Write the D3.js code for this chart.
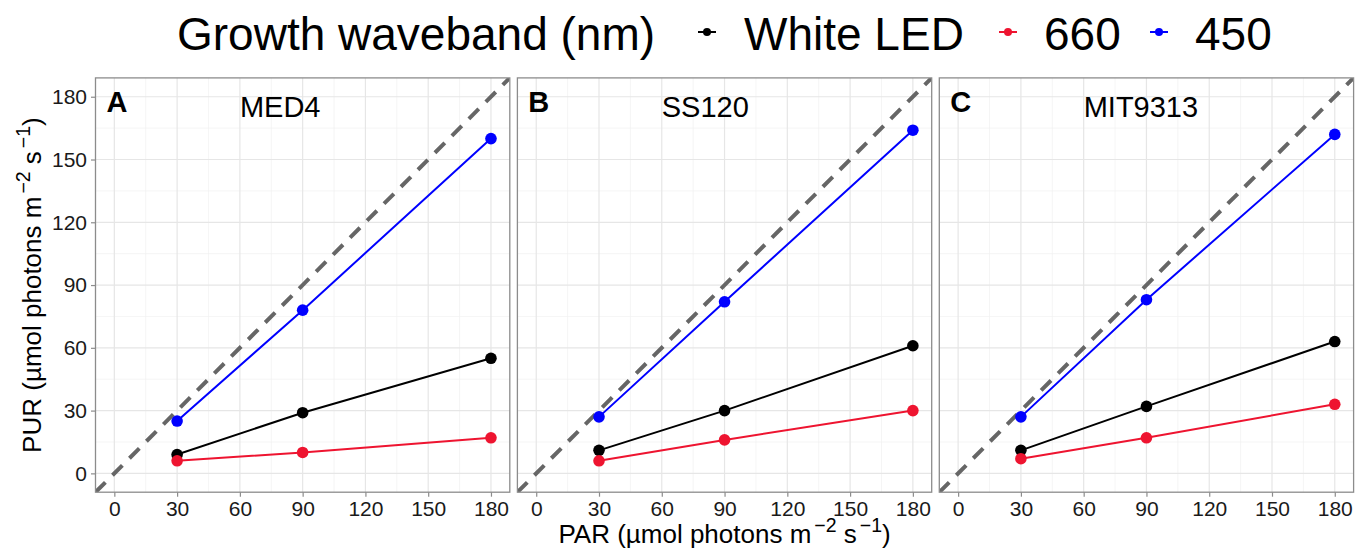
<!DOCTYPE html>
<html>
<head>
<meta charset="utf-8">
<script src="https://cdn.jsdelivr.net/npm/d3@7"></script>
<style>
    body { margin: 0; background: #fff; }
    svg { display: block; font-family: "Liberation Sans", Arial, sans-serif; }
</style>
</head>
<body>
<div id="chart"></div>
<script>
// Data
const strains = ["MED4", "SS120", "MIT9313"];
const panelLetters = ["A", "B", "C"];
const parLevels = [30, 90, 180];
const whiteLED = [[9, 29, 55], [11, 30, 61], [11, 32, 63]];
const red660 = [[6, 10, 17], [6, 16, 30], [7, 17, 33]];
const blue450 = [[25, 78, 160], [27, 82, 164], [27, 83, 162]];
const axisTicks = [0, 30, 60, 90, 120, 150, 180];
const minorTicks = [15, 45, 75, 105, 135, 165];

const seriesNames = ["White LED", "660", "450"];
const seriesColors = ["#000000", "#ee1430", "#0000ff"];
const seriesValues = [whiteLED, red660, blue450];

const width = 1364, height = 556;
const panelW = 414.3, panelGap = 7.6, panelLeft = 95.5;
const panelTop = 77.9, panelBottom = 492.2;

const svg = d3.select("#chart").append("svg")
    .attr("width", width)
    .attr("height", height);

const y = d3.scaleLinear()
    .domain([-9, 189])
    .range([panelBottom, panelTop]);

strains.forEach(function(strain, p) {
    const x0 = panelLeft + p * (panelW + panelGap);
    const x = d3.scaleLinear()
        .domain([-9, 189])
        .range([x0, x0 + panelW]);

    const g = svg.append("g");

    g.append("clipPath")
        .attr("id", "clip" + p)
        .append("rect")
        .attr("x", x0).attr("y", panelTop)
        .attr("width", panelW).attr("height", panelBottom - panelTop);

    // grid
    g.selectAll(".minx").data(minorTicks).enter().append("line")
        .attr("x1", d => x(d)).attr("x2", d => x(d))
        .attr("y1", panelTop).attr("y2", panelBottom)
        .attr("stroke", "#f0f0f0").attr("stroke-width", 0.7);
    g.selectAll(".miny").data(minorTicks).enter().append("line")
        .attr("y1", d => y(d)).attr("y2", d => y(d))
        .attr("x1", x0).attr("x2", x0 + panelW)
        .attr("stroke", "#f0f0f0").attr("stroke-width", 0.7);
    g.selectAll(".majx").data(axisTicks).enter().append("line")
        .attr("x1", d => x(d)).attr("x2", d => x(d))
        .attr("y1", panelTop).attr("y2", panelBottom)
        .attr("stroke", "#e6e6e6").attr("stroke-width", 1.2);
    g.selectAll(".majy").data(axisTicks).enter().append("line")
        .attr("y1", d => y(d)).attr("y2", d => y(d))
        .attr("x1", x0).attr("x2", x0 + panelW)
        .attr("stroke", "#e6e6e6").attr("stroke-width", 1.2);

    // 1:1 line
    g.append("line")
        .attr("clip-path", "url(#clip" + p + ")")
        .attr("x1", x(-9)).attr("y1", y(-9))
        .attr("x2", x(189)).attr("y2", y(189))
        .attr("stroke", "#666666")
        .attr("stroke-width", 4)
        .attr("stroke-dasharray", "14,10");

    const line = d3.line()
        .x(d => x(d.par))
        .y(d => y(d.pur));

    const series = seriesValues.map(function(vals, s) {
        return parLevels.map((par, i) => ({par: par, pur: vals[p][i], color: seriesColors[s]}));
    });

    series.forEach(function(pts) {
        g.append("path")
            .datum(pts)
            .attr("fill", "none")
            .attr("stroke", pts[0].color)
            .attr("stroke-width", 2)
            .attr("d", line);
    });
    series.forEach(function(pts) {
        g.selectAll(null).data(pts).enter().append("circle")
            .attr("cx", d => x(d.par))
            .attr("cy", d => y(d.pur))
            .attr("r", 5.8)
            .attr("fill", d => d.color);
    });

    // border
    g.append("rect")
        .attr("x", x0).attr("y", panelTop)
        .attr("width", panelW).attr("height", panelBottom - panelTop)
        .attr("fill", "none")
        .attr("stroke", "#8c8c8c")
        .attr("stroke-width", 1.3);

    // x axis
    const xAxis = g.append("g")
        .attr("transform", `translate(0, ${panelBottom})`)
        .call(d3.axisBottom(x).tickValues(axisTicks).tickSize(4.5).tickPadding(4));
    xAxis.select(".domain").remove();
    xAxis.selectAll("line").attr("stroke", "#8c8c8c").attr("stroke-width", 1.2);
    xAxis.selectAll("text")
        .attr("fill", "#1a1a1a")
        .style("font-size", "21px")
        .style("font-family", "'Liberation Sans', Arial, sans-serif");

    if (p === 0) {
        const yAxis = g.append("g")
            .attr("transform", `translate(${x0}, 0)`)
            .call(d3.axisLeft(y).tickValues(axisTicks).tickSize(4.5).tickPadding(4));
        yAxis.select(".domain").remove();
        yAxis.selectAll("line").attr("stroke", "#8c8c8c").attr("stroke-width", 1.2);
        yAxis.selectAll("text")
            .attr("fill", "#1a1a1a")
            .style("font-size", "21px")
            .style("font-family", "'Liberation Sans', Arial, sans-serif");
    }

    // panel letter and strain name
    g.append("text")
        .attr("x", x(-3.8))
        .attr("y", y(172.8))
        .attr("font-size", 29)
        .attr("font-weight", "bold")
        .text(panelLetters[p]);

    g.append("text")
        .attr("x", x(60))
        .attr("y", y(170.5))
        .attr("font-size", 29)
        .text(strain);
});

// axis titles
function unitLabel(sel, prefix) {
    sel.append("tspan").text(prefix + " (µmol photons m");
    sel.append("tspan").attr("dx", 3).attr("dy", -11).attr("font-size", "0.75em").text("−2");
    sel.append("tspan").attr("dy", 11).text(" s");
    sel.append("tspan").attr("dx", 3).attr("dy", -11).attr("font-size", "0.75em").text("−1");
    sel.append("tspan").attr("dy", 11).text(")");
}

const xTitle = svg.append("text")
    .attr("x", (panelLeft + 3 * panelW + 2 * panelGap + panelLeft) / 2)
    .attr("y", 543)
    .attr("text-anchor", "middle")
    .attr("font-size", 26)
    .attr("fill", "#000");
unitLabel(xTitle, "PAR");

const yTitle = svg.append("text")
    .attr("transform", `translate(41, ${(panelTop + panelBottom) / 2}) rotate(-90)`)
    .attr("text-anchor", "middle")
    .attr("font-size", 26)
    .attr("fill", "#000");
unitLabel(yTitle, "PUR");

// legend
const legend = svg.append("g");
legend.append("text")
    .attr("x", 177)
    .attr("y", 50)
    .attr("font-size", 46)
    .text("Growth waveband (nm)");

const keyX = [707, 1008, 1159];
const labelX = [744, 1044, 1195];
seriesNames.forEach(function(name, s) {
    legend.append("line")
        .attr("x1", keyX[s] - 9).attr("x2", keyX[s] + 9)
        .attr("y1", 32).attr("y2", 32)
        .attr("stroke", seriesColors[s]).attr("stroke-width", 2);
    legend.append("circle")
        .attr("cx", keyX[s]).attr("cy", 32).attr("r", 4)
        .attr("fill", seriesColors[s]);
    legend.append("text")
        .attr("x", labelX[s])
        .attr("y", 50)
        .attr("font-size", 46)
        .text(name);
});
</script>
</body>
</html>
